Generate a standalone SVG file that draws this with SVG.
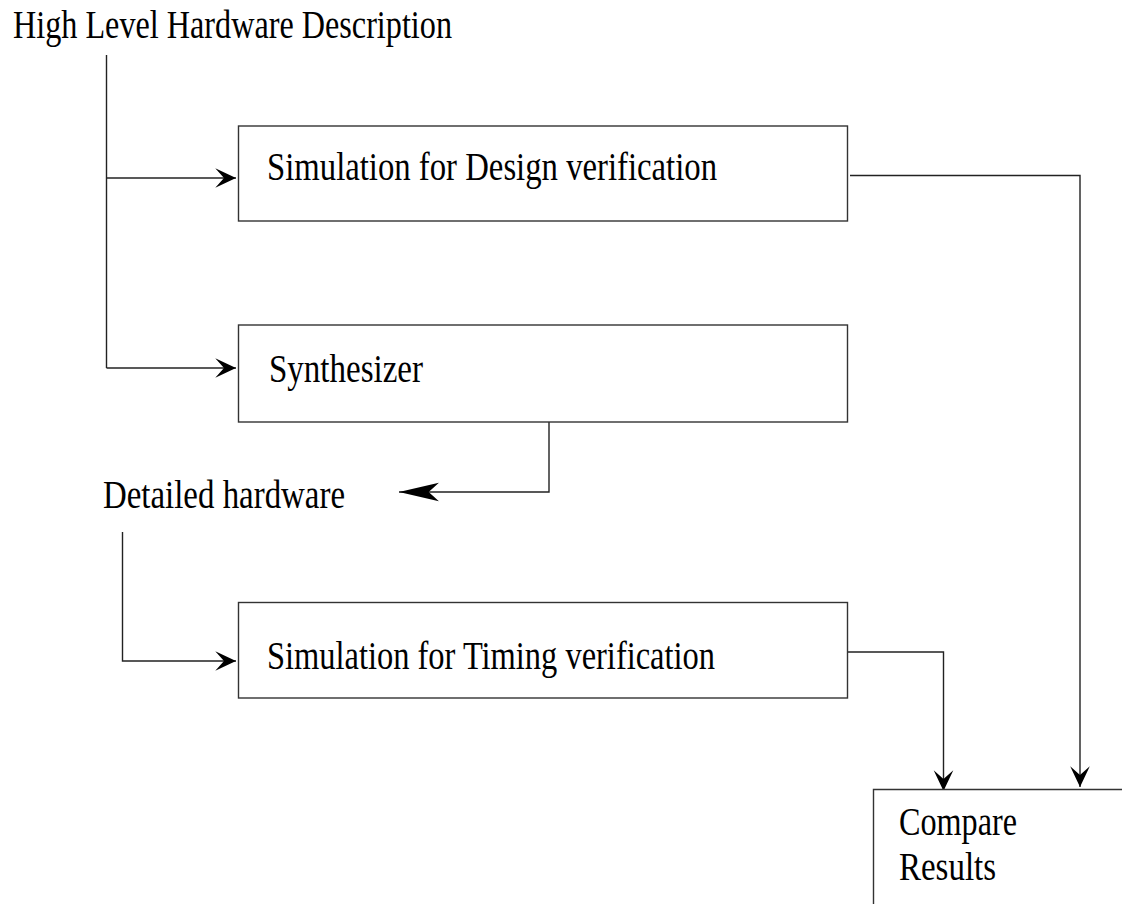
<svg xmlns="http://www.w3.org/2000/svg" width="1122" height="904" viewBox="0 0 1122 904">
  <style>
    .t { font-family: "Liberation Serif", "Times New Roman", serif; font-size: 40px; fill: #000; }
    .box { fill: #fff; stroke: #333; stroke-width: 1.4; }
    .ln { fill: none; stroke: #222; stroke-width: 1.4; }
  </style>
  <defs>
    <marker id="ah" markerUnits="userSpaceOnUse" markerWidth="24" markerHeight="24" viewBox="-20 -10 22 20" refX="0" refY="0" orient="auto">
      <path d="M0,0 L-19,-9 L-11,0 L-19,9 Z" fill="#000"/>
    </marker>
    <marker id="ahBig" markerUnits="userSpaceOnUse" markerWidth="44" markerHeight="24" viewBox="-41 -10 43 20" refX="0" refY="0" orient="auto">
      <path d="M0,0 L-39,-9 L-29,0 L-39,9 Z" fill="#000"/>
    </marker>
  </defs>
  <rect width="1122" height="904" fill="#fff"/>

  <g id="connectors">
    <path class="ln" d="M106.5,55 V368"/>
    <path class="ln" d="M106.5,178 H236" marker-end="url(#ah)"/>
    <path class="ln" d="M106.5,368 H236" marker-end="url(#ah)"/>
    <path class="ln" d="M549,422 V492 H399" marker-end="url(#ahBig)"/>
    <path class="ln" d="M122.5,532 V661 H236" marker-end="url(#ah)"/>
    <path class="ln" d="M848,652 H943.5 V791" marker-end="url(#ah)"/>
    <path class="ln" d="M850,175.5 H1080 V787" marker-end="url(#ah)"/>
  </g>

  <g id="title">
    <text class="t" x="13" y="38" font-size="40" textLength="439" lengthAdjust="spacingAndGlyphs">High Level Hardware Description</text>
  </g>

  <g id="sim-design">
    <rect class="box" x="238.5" y="126" width="609" height="95"/>
    <text class="t" x="267" y="180" textLength="450" lengthAdjust="spacingAndGlyphs">Simulation for Design verification</text>
  </g>

  <g id="synthesizer">
    <rect class="box" x="238.5" y="325" width="609" height="97"/>
    <text class="t" x="269" y="382" textLength="154" lengthAdjust="spacingAndGlyphs">Synthesizer</text>
  </g>

  <g id="detailed">
    <text class="t" x="103" y="508" textLength="242" lengthAdjust="spacingAndGlyphs">Detailed hardware</text>
  </g>

  <g id="sim-timing">
    <rect class="box" x="238.5" y="602.5" width="609" height="95.5"/>
    <text class="t" x="267" y="669" textLength="448" lengthAdjust="spacingAndGlyphs">Simulation for Timing verification</text>
  </g>

  <g id="compare">
    <path class="box" d="M873.5,910 V789.5 H1130 V910 Z"/>
    <text class="t" x="899" y="835" textLength="118" lengthAdjust="spacingAndGlyphs">Compare</text>
    <text class="t" x="899" y="880" textLength="97" lengthAdjust="spacingAndGlyphs">Results</text>
  </g>
</svg>
